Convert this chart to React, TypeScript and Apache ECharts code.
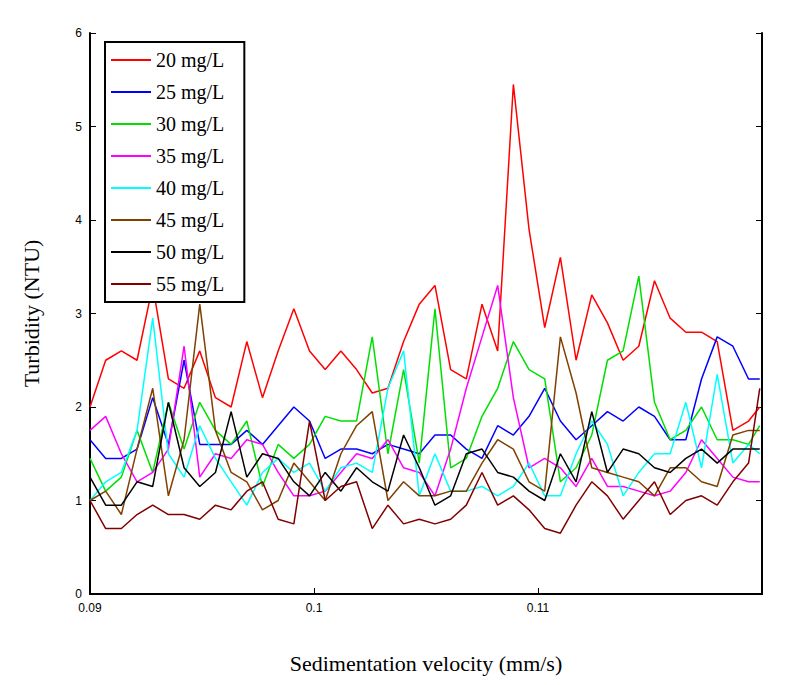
import { useEffect, useRef } from "react";
import * as echarts from "echarts";

const xs = [
  0.09, 0.0907, 0.0914, 0.0921, 0.0928, 0.0935, 0.0942, 0.0949, 0.0956, 0.0963, 0.097,
  0.0977, 0.0984, 0.0991, 0.0998, 0.1005, 0.1012, 0.1019, 0.1026, 0.1033, 0.104, 0.1047,
  0.1054, 0.1061, 0.1068, 0.1075, 0.1082, 0.1089, 0.1096, 0.1103, 0.111, 0.1117, 0.1124,
  0.1131, 0.1138, 0.1145, 0.1152, 0.1159, 0.1166, 0.1173, 0.118, 0.1187, 0.1194, 0.1199,
];

const names = ["20 mg/L", "25 mg/L", "30 mg/L", "35 mg/L", "40 mg/L", "45 mg/L", "50 mg/L", "55 mg/L"];
const colors = ["#ff0000", "#0000ff", "#00e000", "#ff00ff", "#00ffff", "#804000", "#000000", "#800000"];

const s20 = [2.0, 2.5, 2.6, 2.5, 3.3, 2.3, 2.2, 2.6, 2.1, 2.0, 2.7, 2.1, 2.6, 3.05, 2.6, 2.4, 2.6, 2.4, 2.15, 2.2, 2.7, 3.1, 3.3, 2.4, 2.3, 3.1, 2.6, 5.45, 3.9, 2.85, 3.6, 2.5, 3.2, 2.9, 2.5, 2.65, 3.35, 2.95, 2.8, 2.8, 2.7, 1.75, 1.85, 2.0];
const s25 = [1.65, 1.45, 1.45, 1.55, 2.1, 1.6, 2.5, 1.6, 1.6, 1.6, 1.75, 1.6, 1.8, 2.0, 1.85, 1.45, 1.55, 1.55, 1.5, 1.6, 1.55, 1.5, 1.7, 1.7, 1.55, 1.45, 1.8, 1.7, 1.9, 2.2, 1.85, 1.65, 1.8, 1.95, 1.85, 2.0, 1.9, 1.65, 1.65, 2.3, 2.75, 2.65, 2.3, 2.3];
const s30 = [1.45, 1.1, 1.25, 1.75, 1.3, 2.05, 1.55, 2.05, 1.75, 1.6, 1.85, 1.15, 1.6, 1.45, 1.6, 1.9, 1.85, 1.85, 2.75, 1.5, 2.4, 1.4, 3.05, 1.35, 1.45, 1.9, 2.2, 2.7, 2.4, 2.3, 1.2, 1.35, 1.7, 2.5, 2.6, 3.4, 2.05, 1.65, 1.75, 2.0, 1.65, 1.65, 1.6, 1.8];
const s35 = [1.75, 1.9, 1.5, 1.2, 1.3, 1.55, 2.65, 1.25, 1.5, 1.45, 1.65, 1.6, 1.3, 1.05, 1.05, 1.1, 1.3, 1.5, 1.45, 1.65, 1.35, 1.3, 1.05, 1.55, 2.2, 2.75, 3.3, 2.1, 1.35, 1.45, 1.35, 1.15, 1.45, 1.15, 1.15, 1.1, 1.05, 1.1, 1.3, 1.65, 1.45, 1.25, 1.2, 1.2];
const s40 = [1.0, 1.2, 1.3, 1.75, 2.95, 1.5, 1.25, 1.8, 1.45, 1.2, 0.95, 1.3, 1.45, 1.3, 1.4, 1.1, 1.35, 1.4, 1.3, 2.2, 2.6, 1.05, 1.5, 1.1, 1.1, 1.15, 1.05, 1.15, 1.4, 1.05, 1.05, 1.5, 1.85, 1.6, 1.05, 1.3, 1.5, 1.5, 2.05, 1.35, 2.35, 1.4, 1.6, 1.5];
const s45 = [1.0, 1.1, 0.85, 1.55, 2.2, 1.05, 1.65, 3.1, 1.75, 1.3, 1.2, 0.9, 1.0, 1.4, 1.2, 1.0, 1.5, 1.8, 1.95, 1.0, 1.2, 1.05, 1.05, 1.1, 1.1, 1.4, 1.65, 1.55, 1.2, 1.1, 2.75, 2.15, 1.35, 1.3, 1.25, 1.2, 1.05, 1.35, 1.35, 1.2, 1.15, 1.7, 1.75, 1.75];
const s50 = [1.25, 0.95, 0.95, 1.2, 1.15, 2.05, 1.35, 1.15, 1.3, 1.95, 1.25, 1.5, 1.45, 1.2, 1.05, 1.3, 1.1, 1.35, 1.2, 1.1, 1.7, 1.35, 0.95, 1.05, 1.5, 1.55, 1.3, 1.25, 1.1, 1.0, 1.5, 1.2, 1.95, 1.3, 1.55, 1.5, 1.35, 1.3, 1.45, 1.55, 1.4, 1.55, 1.55, 1.55];
const s55 = [1.0, 0.7, 0.7, 0.85, 0.95, 0.85, 0.85, 0.8, 0.95, 0.9, 1.1, 1.2, 0.8, 0.75, 1.85, 1.0, 1.15, 1.2, 0.7, 0.95, 0.75, 0.8, 0.75, 0.8, 0.95, 1.3, 0.95, 1.05, 0.9, 0.7, 0.65, 0.95, 1.2, 1.05, 0.8, 1.0, 1.2, 0.85, 1.0, 1.05, 0.95, 1.2, 1.4, 2.2];
const allSeries = [s20, s25, s30, s35, s40, s45, s50, s55];

const serif = "'Liberation Serif', 'DejaVu Serif', serif";
const sans = "'Liberation Sans', sans-serif";

export default function App() {
  const ref = useRef<HTMLDivElement>(null);

  useEffect(() => {
    document.body.style.margin = "0";
    if (!ref.current) return;
    const chart = echarts.init(ref.current, undefined, { renderer: "svg" });
    const boxLine = { lineStyle: { color: "#000", width: 2 } };
    const titleStyle = { fontFamily: serif, fontSize: 22, color: "#000" };
    chart.setOption({
      animation: false,
      backgroundColor: "#fff",
      textStyle: { fontFamily: serif },
      grid: { left: 90, right: 38, top: 33, bottom: 91 },
      legend: {
        orient: "vertical",
        left: 105,
        top: 42,
        data: names,
        backgroundColor: "#fff",
        borderColor: "#000",
        borderWidth: 2,
        borderRadius: 0,
        padding: [8, 20, 8, 6],
        itemWidth: 40,
        itemHeight: 20,
        itemGap: 12,
        icon: "path://M0,9 L40,9 L40,11 L0,11 Z",
        textStyle: { fontFamily: serif, fontSize: 20, color: "#000" },
      },
      xAxis: [
        {
          type: "value",
          min: 0.09,
          max: 0.12,
          interval: 0.01,
          name: "Sedimentation velocity (mm/s)",
          nameLocation: "middle",
          nameGap: 58,
          nameTextStyle: titleStyle,
          axisLine: boxLine,
          axisTick: { inside: true, length: 6, lineStyle: { color: "#000" } },
          axisLabel: {
            fontFamily: sans,
            fontSize: 12,
            color: "#000",
            margin: 8,
            formatter: (v: number) => (Math.abs(v - 0.12) < 1e-9 ? "" : String(Math.round(v * 100) / 100)),
          },
          splitLine: { show: false },
        },
        {
          type: "value",
          position: "top",
          min: 0.09,
          max: 0.12,
          interval: 0.01,
          axisLine: boxLine,
          axisTick: { show: false },
          axisLabel: { show: false },
          splitLine: { show: false },
        },
      ],
      yAxis: [
        {
          type: "value",
          min: 0,
          max: 6,
          interval: 1,
          name: "Turbidity (NTU)",
          nameLocation: "middle",
          nameGap: 48,
          nameTextStyle: titleStyle,
          axisLine: boxLine,
          axisTick: { inside: true, length: 6, lineStyle: { color: "#000" } },
          axisLabel: { fontFamily: sans, fontSize: 12, color: "#000", margin: 8 },
          splitLine: { show: false },
        },
        {
          type: "value",
          position: "right",
          min: 0,
          max: 6,
          interval: 1,
          axisLine: boxLine,
          axisTick: { inside: true, length: 6, lineStyle: { color: "#000" } },
          axisLabel: { show: false },
          splitLine: { show: false },
        },
      ],
      series: allSeries.map((vals, i) => ({
        name: names[i],
        type: "line",
        data: vals.map((v, j) => [xs[j], v]),
        showSymbol: false,
        symbol: "none",
        lineStyle: { color: colors[i], width: 1.5 },
        itemStyle: { color: colors[i] },
      })),
    });
    return () => chart.dispose();
  }, []);

  return <div ref={ref} style={{ width: 800, height: 685 }} />;
}
